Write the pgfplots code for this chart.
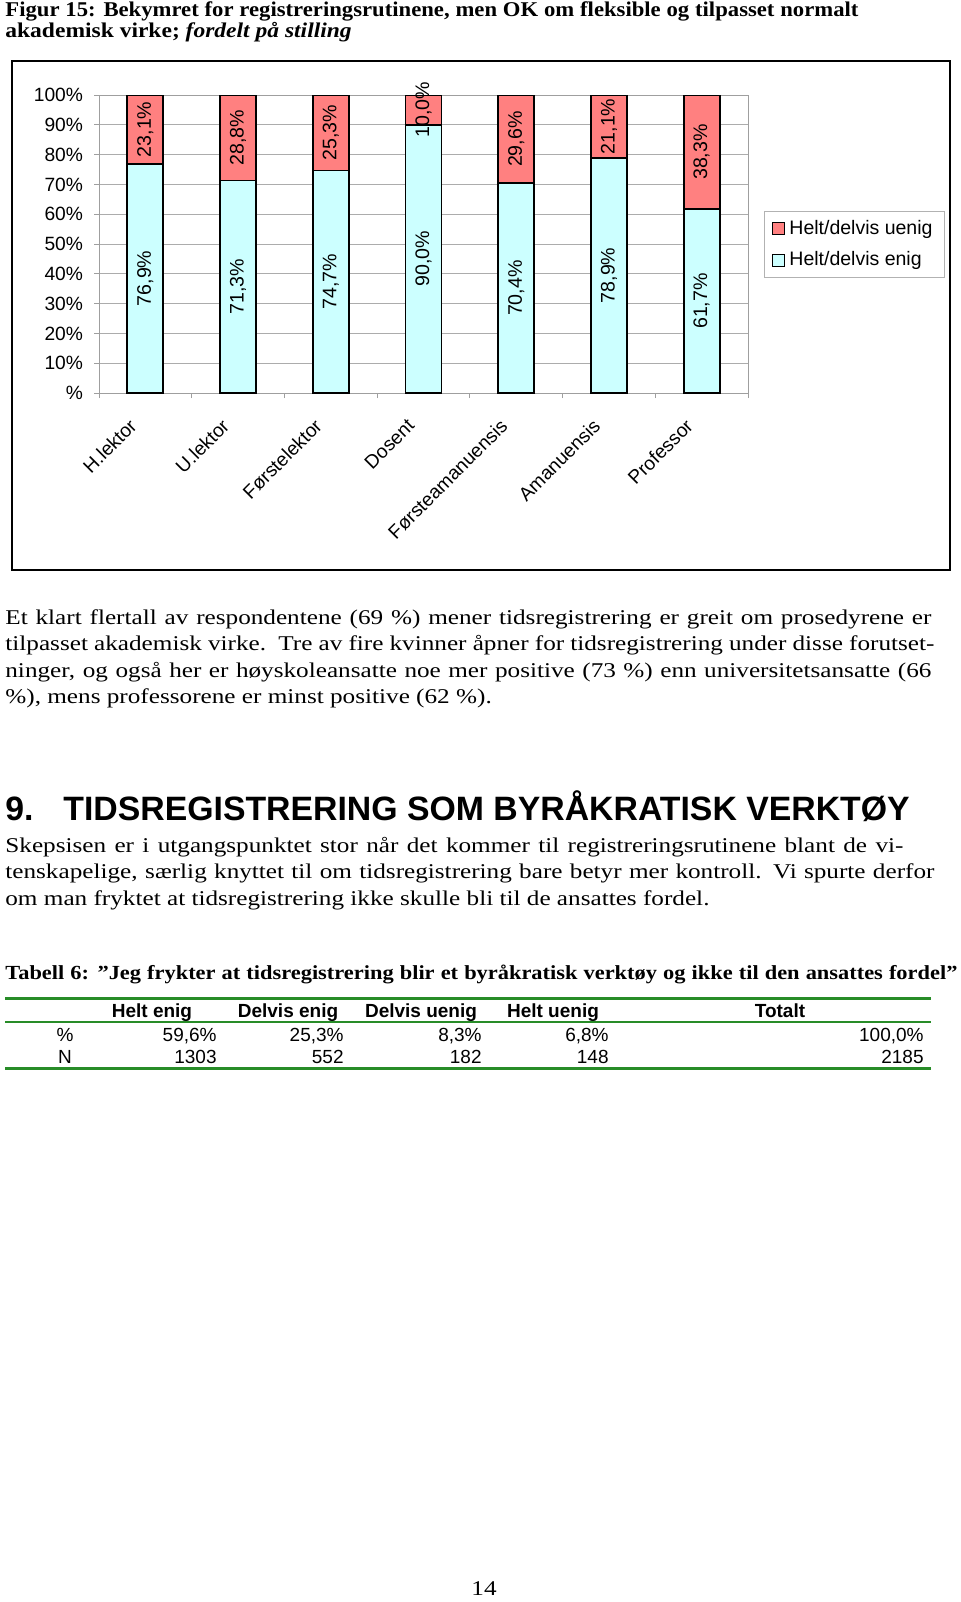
\documentclass[border=0pt]{standalone}
\usepackage{fontspec}
\setmainfont{Liberation Serif}[FakeStretch=1.2]
\newfontfamily\titlefont{Liberation Serif}[FakeStretch=1.12]
\newfontfamily\titlefontA{Liberation Serif}[FakeStretch=1.08]
\newfontfamily\arial{Liberation Sans}
\usepackage{pgfplots}
\pgfplotsset{compat=1.18}
\definecolor{uenig}{RGB}{255,128,128}
\definecolor{enig}{RGB}{204,255,255}
\definecolor{tabgreen}{RGB}{40,140,40}
\newcommand\fs[1]{\fontsize{#1bp}{#1bp}\selectfont}
\begin{document}
\begin{tikzpicture}[x=0.5bp,y=-0.5bp]
\path[use as bounding box] (0,0) rectangle (960,1602);
% title
\node[anchor=base west, inner sep=0] at (5,16) {\titlefontA\fs{10.5}\bfseries\makebox[426.5bp][s]{Figur 15: Bekymret for registreringsrutinene, men OK om fleksible og tilpasset normalt}};
\node[anchor=base west, inner sep=0] at (5,37) {\titlefont\fs{10.5}\bfseries akademisk virke; \textit{fordelt på stilling}};
% frame
\draw[line width=1bp] (12,61) rectangle (950,570);
% main chart
\begin{axis}[
  at={(49.5bp,-196.5bp)}, anchor=south west,
  scale only axis, width=324.5bp, height=149bp,
  ybar stacked, bar width=0.388,
  xmin=-0.5, xmax=6.5, ymin=0, ymax=100,
  axis line style={gray!75, line width=0.5bp},
  tick pos=left, tick align=outside,
  major tick length=2.5bp, minor tick length=2.5bp,
  xtick={0,1,2,3,4,5,6},
  xticklabels={H.lektor,U.lektor,Førstelektor,Dosent,Førsteamanuensis,Amanuensis,Professor},
  major x tick style={draw=none},
  minor xtick={-0.5,0.5,1.5,2.5,3.5,4.5,5.5,6.5},
  minor x tick style={draw=gray!75, line width=0.5bp},
  ytick={0,10,20,30,40,50,60,70,80,90,100},
  yticklabels={\%,10\%,20\%,30\%,40\%,50\%,60\%,70\%,80\%,90\%,100\%},
  y tick style={draw=gray!75, line width=0.5bp},
  ymajorgrids, grid style={gray!65, line width=0.5bp},
  tick label style={font=\arial\fs{9.6}},
  yticklabel style={xshift=-2bp},
  xticklabel style={xshift=-8.7bp, yshift=-8.2bp, rotate=45, anchor=north east, inner sep=1bp},
  legend style={at={(1.0247,0.6107)}, anchor=north west, draw=gray!60, fill=white,
     font=\arial\fs{9.75}, inner xsep=4bp, inner ysep=2.5bp, row sep=3bp,
     cells={anchor=west}},
  reverse legend,
]
\addplot[fill=enig, draw=black, line width=0.9bp,
  legend image code/.code={\draw[fill=enig, draw=black, line width=0.5bp] (0bp,-3bp) rectangle (6bp,3bp);}]
  coordinates {(0,76.9) (1,71.3) (2,74.7) (3,90.0) (4,70.4) (5,78.9) (6,61.7)};
\addlegendentry{Helt/delvis enig}
\addplot[fill=uenig, draw=black, line width=0.9bp,
  legend image code/.code={\draw[fill=uenig, draw=black, line width=0.5bp] (0bp,-3bp) rectangle (6bp,3bp);}]
  coordinates {(0,23.1) (1,28.8) (2,25.3) (3,10.0) (4,29.6) (5,21.1) (6,38.3)};
\addlegendentry{Helt/delvis uenig}
\end{axis}
% value labels
\begin{axis}[
  at={(49.5bp,-196.5bp)}, anchor=south west,
  scale only axis, width=324.5bp, height=149bp,
  xmin=-0.5, xmax=6.5, ymin=0, ymax=100,
  hide axis, clip=false,
]
\addplot[draw=none, mark=none, nodes near coords, point meta=explicit symbolic,
  every node near coord/.append style={rotate=90, anchor=center, inner sep=0, font=\arial\fs{9.8}}]
  coordinates {(0,38.45) [76,9\%] (1,35.65) [71,3\%] (2,37.35) [74,7\%] (3,45.0) [90,0\%]
               (4,35.2) [70,4\%] (5,39.45) [78,9\%] (6,30.85) [61,7\%]};
\addplot[draw=none, mark=none, nodes near coords, point meta=explicit symbolic,
  every node near coord/.append style={rotate=90, anchor=center, inner sep=0, font=\arial\fs{9.8}}]
  coordinates {(0,88.45) [23,1\%] (1,85.7) [28,8\%] (2,87.35) [25,3\%] (3,95.0) [10,0\%]
               (4,85.2) [29,6\%] (5,89.45) [21,1\%] (6,80.85) [38,3\%]};
\end{axis}
% paragraph 1
\node[anchor=base west, inner sep=0] at (5,624) {\fs{10.5}\makebox[463bp][s]{Et klart flertall av respondentene (69 \%) mener tidsregistrering er greit om prosedyrene er}};
\node[anchor=base west, inner sep=0] at (5,650.5) {\fs{10.5}\makebox[464.5bp][s]{tilpasset akademisk virke.\ \ Tre av fire kvinner åpner for tidsregistrering under disse forutset-}};
\node[anchor=base west, inner sep=0] at (5,677) {\fs{10.5}\makebox[463bp][s]{ninger, og også her er høyskoleansatte noe mer positive (73 \%) enn universitetsansatte (66}};
\node[anchor=base west, inner sep=0] at (5,703.5) {\fs{10.5}\%), mens professorene er minst positive (62 \%).};
% heading
\node[anchor=base west, inner sep=0] at (5,820) {\arial\fs{16.9}\bfseries 9.};
\node[anchor=base west, inner sep=0] at (63,820) {\arial\fs{16.9}\bfseries TIDSREGISTRERING SOM BYRÅKRATISK VERKTØY};
% paragraph 2
\node[anchor=base west, inner sep=0] at (5,852) {\fs{10.5}\makebox[449bp][s]{Skepsisen er i utgangspunktet stor når det kommer til registreringsrutinene blant de vi-}};
\node[anchor=base west, inner sep=0] at (5,878.5) {\fs{10.5}\makebox[464.5bp][s]{tenskapelige, særlig knyttet til om tidsregistrering bare betyr mer kontroll. Vi spurte derfor}};
\node[anchor=base west, inner sep=0] at (5,905) {\fs{10.5}om man fryktet at tidsregistrering ikke skulle bli til de ansattes fordel.};
% table caption
\node[anchor=base west, inner sep=0] at (5,979) {\titlefont\fs{10}\bfseries\makebox[476bp][s]{Tabell 6: ”Jeg frykter at tidsregistrering blir et byråkratisk verktøy og ikke til den ansattes fordel”}};
% table
\draw[tabgreen, line width=1.5bp] (5,998) -- (931,998);
\draw[tabgreen, line width=0.7bp] (5,1022) -- (931,1022);
\draw[tabgreen, line width=1.5bp] (5,1068) -- (931,1068);
\begin{scope}[every node/.style={inner sep=0, font=\arial\fs{9.5}}]
\node[anchor=base, font=\arial\fs{9.5}\bfseries] at (152,1017) {Helt enig};
\node[anchor=base, font=\arial\fs{9.5}\bfseries] at (288,1017) {Delvis enig};
\node[anchor=base, font=\arial\fs{9.5}\bfseries] at (421,1017) {Delvis uenig};
\node[anchor=base, font=\arial\fs{9.5}\bfseries] at (553,1017) {Helt uenig};
\node[anchor=base, font=\arial\fs{9.5}\bfseries] at (780,1017) {Totalt};
\node[anchor=base] at (65,1041) {\%};
\node[anchor=base east] at (217,1041) {59,6\%};
\node[anchor=base east] at (344,1041) {25,3\%};
\node[anchor=base east] at (482,1041) {8,3\%};
\node[anchor=base east] at (609,1041) {6,8\%};
\node[anchor=base east] at (924,1041) {100,0\%};
\node[anchor=base] at (65,1063) {N};
\node[anchor=base east] at (217,1063) {1303};
\node[anchor=base east] at (344,1063) {552};
\node[anchor=base east] at (482,1063) {182};
\node[anchor=base east] at (609,1063) {148};
\node[anchor=base east] at (924,1063) {2185};
\end{scope}
% page number
\node[anchor=base, inner sep=0] at (484,1595) {\fs{10.5}14};
\end{tikzpicture}
\end{document}
